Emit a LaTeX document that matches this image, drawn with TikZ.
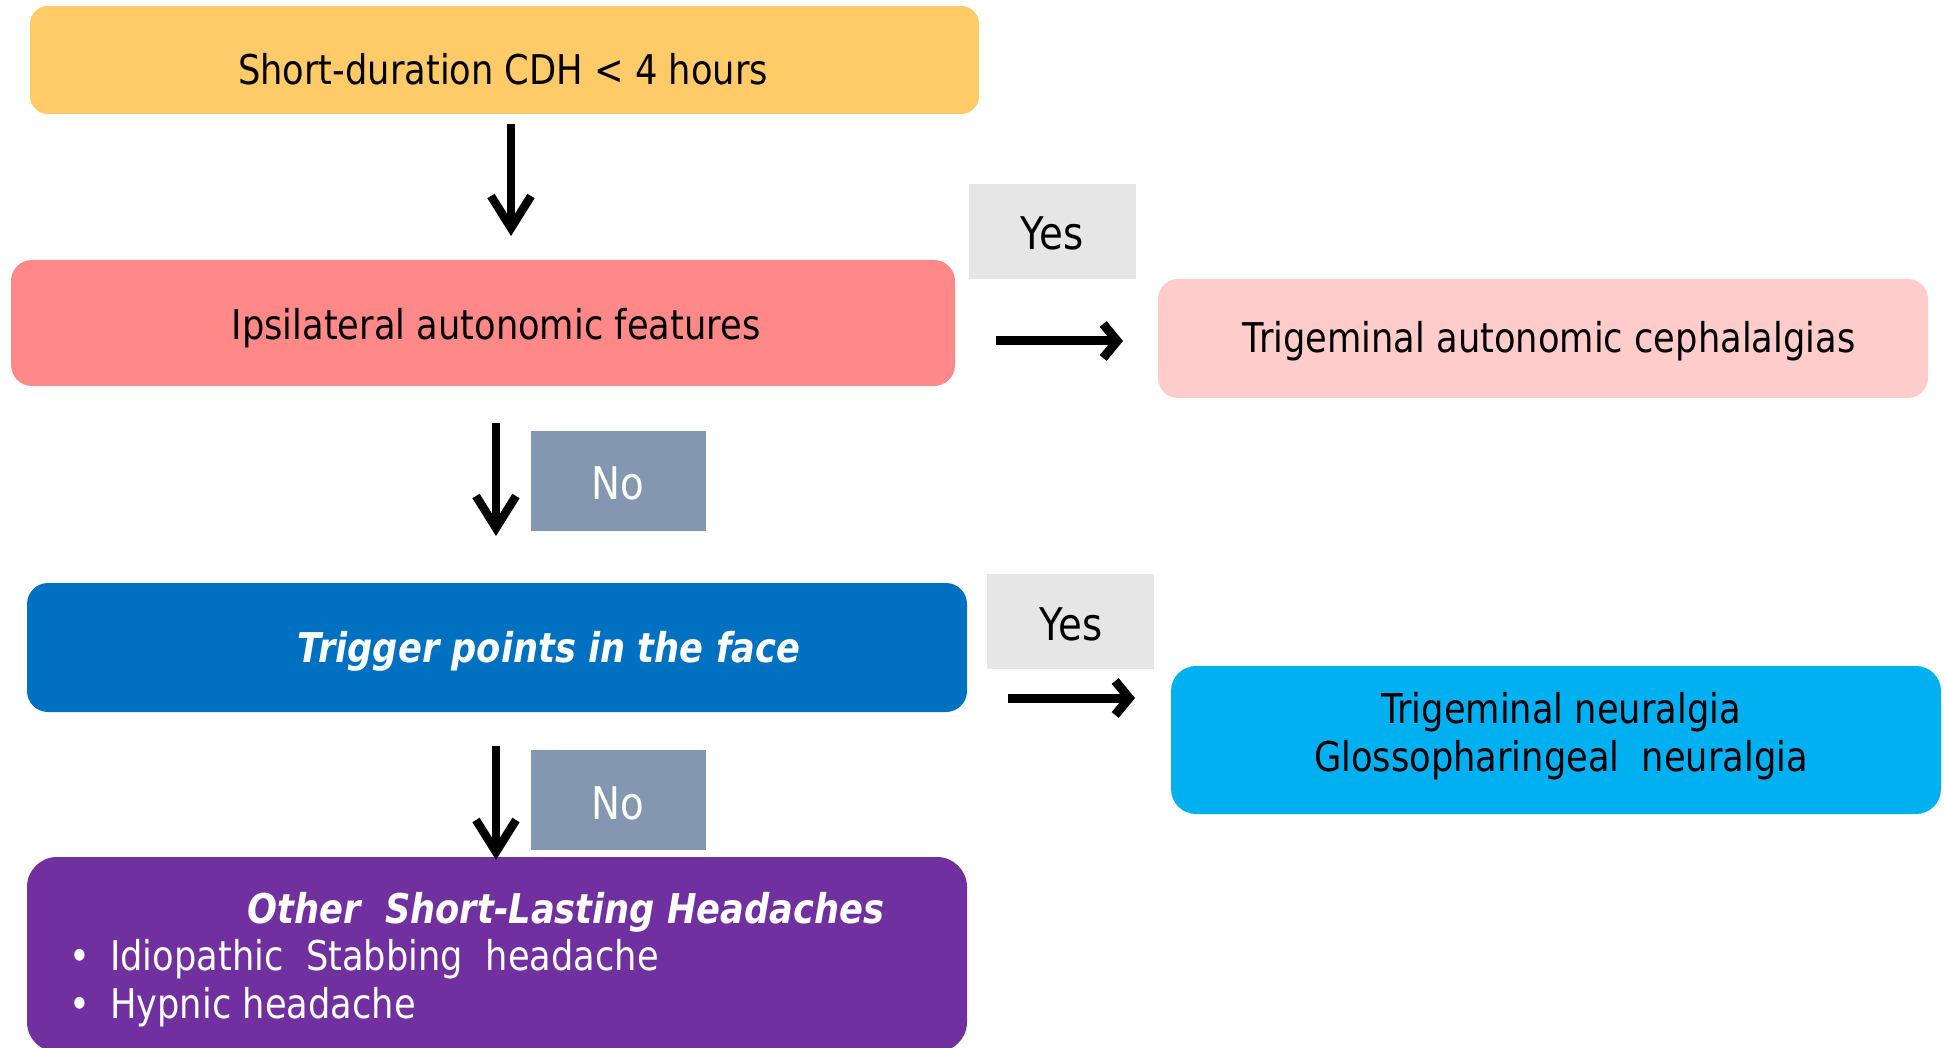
\documentclass[tikz,border=0pt]{standalone}
\usepackage{fontspec}
\setmainfont[FakeStretch=0.86]{DejaVu Sans}
\usetikzlibrary{arrows.meta}
\definecolor{cyellow}{HTML}{FFCA68}
\definecolor{csalmon}{HTML}{FF8888}
\definecolor{cpink}{HTML}{FFCCCC}
\definecolor{cblue}{HTML}{0070C0}
\definecolor{ccyan}{HTML}{00B0F0}
\definecolor{cpurple}{HTML}{7030A0}
\definecolor{cyesbg}{HTML}{E6E6E6}
\definecolor{cnobg}{HTML}{8497B0}
\begin{document}
\begin{tikzpicture}[x=1pt,y=-1pt,
  boxsty/.style={draw=none, inner sep=0pt, outer sep=0pt, anchor=north west},
  txt/.style={inner sep=0pt, font=\fontsize{41}{48}\selectfont, anchor=base},
  lbl/.style={inner sep=0pt, font=\fontsize{45}{50}\selectfont, anchor=base},
  darr/.style={line width=8.5pt, -{Straight Barb[length=32pt,width=40pt]}},
  harr/.style={line width=9pt, -{Straight Barb[length=14pt,width=34pt]}}]
\useasboundingbox (0,0) rectangle (1944,1048);
\clip (0,0) rectangle (1944,1048);
% boxes
\node[boxsty, fill=cyellow, rounded corners=18pt, minimum width=949pt, minimum height=108pt] (yellow) at (30,6) {};
\node[boxsty, fill=csalmon, rounded corners=21pt, minimum width=944pt, minimum height=126pt] (red) at (11,260) {};
\node[boxsty, fill=cpink, rounded corners=20pt, minimum width=770pt, minimum height=119pt] (pink) at (1158,279) {};
\node[boxsty, fill=cblue, rounded corners=21pt, minimum width=940pt, minimum height=129pt] (blue) at (27,583) {};
\node[boxsty, fill=ccyan, rounded corners=25pt, minimum width=770pt, minimum height=148pt] (cyan) at (1171,666) {};
\node[boxsty, fill=cpurple, rounded corners=30pt, minimum width=940pt, minimum height=195pt] (purple) at (27,857) {};
\node[boxsty, fill=cyesbg, minimum width=167pt, minimum height=95pt] (yes1) at (969,184) {};
\node[boxsty, fill=cyesbg, minimum width=167pt, minimum height=95pt] (yes2) at (987,574) {};
\node[boxsty, fill=cnobg, minimum width=175pt, minimum height=100pt] (no1) at (531,431) {};
\node[boxsty, fill=cnobg, minimum width=175pt, minimum height=100pt] (no2) at (531,750) {};
% texts
\node[txt] (tyellow) at (503,85) {Short-duration CDH < 4 hours};
\node[txt] (tred) at (496,340) {Ipsilateral autonomic features};
\node[txt] (tpink) at (1549,353) {Trigeminal autonomic cephalalgias};
\node[txt, text=white, font=\fontsize{41}{48}\selectfont\bfseries\itshape] (tblue) at (549,662) {Trigger points in the face};
\node[txt] (tcyan1) at (1561,723) {Trigeminal neuralgia};
\node[txt] (tcyan2) at (1561,771) {Glossopharingeal\ \ neuralgia};
\node[txt, text=white, font=\fontsize{41}{48}\selectfont\bfseries\itshape] (tpurple) at (566,923) {Other\ \ Short-Lasting Headaches};
\node[txt, text=white] (bul1) at (80,970) {•};
\node[txt, text=white, anchor=base west] (tbul1) at (110,970) {Idiopathic\ \ Stabbing\ \ headache};
\node[txt, text=white] (bul2) at (80,1018) {•};
\node[txt, text=white, anchor=base west] (tbul2) at (110,1018) {Hypnic headache};
\node[lbl] (tyes1) at (1052,250) {Yes};
\node[lbl] (tyes2) at (1071,640) {Yes};
\node[lbl, text=white] (tno1) at (618,499) {No};
\node[lbl, text=white] (tno2) at (618,819) {No};
% connectors
\draw[darr, shorten <=10pt, shorten >=24pt] ([xshift=6.5pt]yellow.south) -- ([xshift=6.5pt]yellow.south |- red.north);
\draw[darr, shorten <=37pt, shorten >=47pt] ([xshift=13pt]red.south) -- ([xshift=13pt]red.south |- blue.north);
\draw[darr, shorten <=34pt, shorten >=-3pt] ([xshift=-1pt]blue.south) -- ([xshift=-1pt]blue.south |- purple.north);
\draw[harr, shorten <=41pt, shorten >=35pt] ([yshift=-18pt]red.east) -- ([yshift=-18pt]red.east -| pink.west);
\draw[harr, shorten <=41pt, shorten >=36pt] ([yshift=-50.5pt]blue.east) -- ([yshift=-50.5pt]blue.east -| cyan.west);
\end{tikzpicture}
\end{document}
